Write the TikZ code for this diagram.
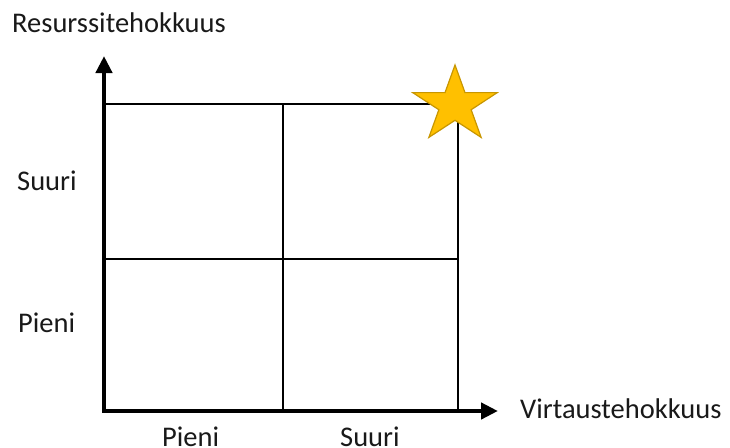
\documentclass[tikz,border=0pt]{standalone}
\usepackage{fontspec}
\setmainfont{Carlito}
\usetikzlibrary{arrows.meta}
\definecolor{starfill}{HTML}{FFC000}
\definecolor{stardraw}{HTML}{C89600}
\tikzset{
  axisline/.style={line width=4.5pt,-{Triangle[length=17pt,width=16pt]}},
  gridline/.style={line width=2.6pt},
  lbl/.style={inner sep=0pt,anchor=base west,font=\fontsize{28.5}{34}\selectfont,text=black!90},
}
\begin{document}
\begin{tikzpicture}[x=1pt,y=-1pt]
\useasboundingbox (0,0) rectangle (730,447);
% grid corners
\coordinate (O) at (104,411);
\coordinate (TL) at (104,104);
\coordinate (TR) at (458,104);
\coordinate (BR) at (458,411);
\coordinate (ML) at (104,259);
\coordinate (MR) at (458,259);
\coordinate (TM) at (283,104);
\coordinate (BM) at (283,411);
\coordinate (ytip) at (104,56);
\coordinate (xtip) at (498,411);
% grid
\draw[gridline] (TL) -- (TR) -- (BR);
\draw[gridline] (ML) -- (MR);
\draw[gridline] (TM) -- (BM);
% axes
\draw[axisline] ([yshift=2pt]O) -- (ytip);
\draw[axisline] ([xshift=-2pt]O) -- (xtip);
% star (y axis points down here, so -90 is the top)
\begin{scope}[shift={(455,105)},xscale=1.11]
\draw[fill=starfill,draw=stardraw,line width=1.2pt,line join=miter]
  (-90:40) -- (-54:15.3) -- (-18:40) -- (18:15.3) -- (54:40) -- (90:15.3)
  -- (126:40) -- (162:15.3) -- (198:40) -- (234:15.3) -- cycle;
\end{scope}
% labels
\node[lbl] (ylab) at (12,32) {Resurssitehokkuus};
\node[lbl] (xlab) at (520,418) {Virtaustehokkuus};
\node[lbl] (yhigh) at (17,190) {Suuri};
\node[lbl] (ylow) at (18,332) {Pieni};
\node[lbl] (xlow) at (162,446) {Pieni};
\node[lbl] (xhigh) at (340,446) {Suuri};
\end{tikzpicture}
\end{document}
